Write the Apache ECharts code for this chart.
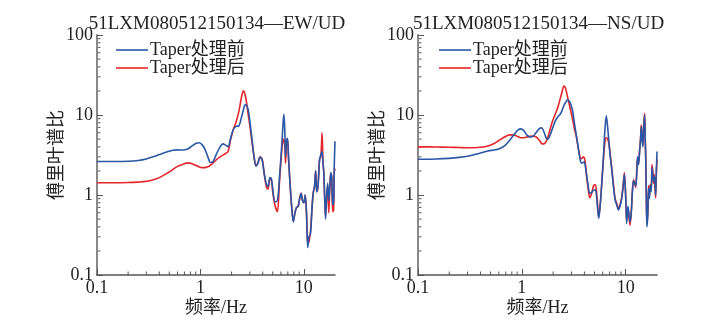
<!DOCTYPE html>
<html>
<head>
<meta charset="utf-8">
<script src="https://cdn.jsdelivr.net/npm/echarts@6/dist/echarts.min.js"></script>
<style>html,body{margin:0;padding:0;background:#fff}#c{width:722px;height:336px}</style>
</head>
<body>
<div id="c"></div>
<script>
// ---------- data ----------
const titles = ['51LXM080512150134\u2014EW/UD', '51LXM080512150134\u2014NS/UD'];
const seriesNames = ['Taper处理前', 'Taper处理后'];
const xTickLabels = ['0.1', '1', '10'];
const yTickLabels = ['0.1', '1', '10', '100'];
const xName = '频率/Hz';
const yName = '傅里叶谱比';

const ewFreq = [0.1,0.15,0.2,0.25,0.3,0.35,0.4,0.47,0.54,0.6,0.68,0.75,0.82,0.9,0.97,1.03,1.1,1.18,1.25,1.32,1.42,1.55,1.65,1.75,1.85,1.95,2.07,2.2,2.35,2.5,2.6,2.7,2.8,2.9,3.0,3.15,3.3,3.45,3.6,3.77,3.95,4.15,4.35,4.5,4.7,4.85,5.0,5.25,5.55,5.8,6.1,6.3,6.42,6.55,6.65,6.8,6.95,7.1,7.3,7.6,7.9,8.2,8.5,8.8,9.1,9.4,9.7,10.0,10.3,10.6,10.9,11.2,11.6,12.0,12.3,12.7,13.0,13.3,13.7,14.2,14.6,15.0,15.3,15.6,15.9,16.2,16.6,17.0,17.4,17.8,18.2,18.6,19.0,19.4,19.7,20.0];
const ewBefore = [2.62,2.62,2.64,2.7,2.82,3.0,3.2,3.45,3.62,3.66,3.65,3.75,4.05,4.4,4.5,4.3,3.8,3.0,2.55,2.6,3.2,4.0,4.35,4.2,4.0,5.0,6.5,7.2,7.3,9.5,11.5,13.4,13.2,11.5,8.5,5.0,3.0,2.3,2.5,2.95,2.75,1.8,1.35,1.28,1.65,1.6,1.2,0.82,0.85,1.6,4.0,8.0,10.2,6.0,3.0,4.8,5.1,3.0,1.6,0.75,0.46,0.6,0.7,0.72,0.9,1.05,0.85,0.8,1.0,0.6,0.22,0.3,0.33,0.7,1.05,1.3,2.0,1.1,1.3,2.8,3.2,3.5,2.5,1.9,0.9,0.5,1.0,1.4,0.85,1.2,1.9,1.7,0.75,0.8,2.5,4.7];
const ewAfter = [1.42,1.42,1.43,1.45,1.48,1.55,1.65,1.85,2.08,2.28,2.42,2.52,2.48,2.35,2.25,2.2,2.2,2.25,2.35,2.5,2.75,3.0,3.15,3.3,3.5,4.8,6.5,8.0,11.0,17.0,20.0,18.0,14.0,10.0,7.5,4.6,3.0,2.3,2.55,3.0,2.8,1.8,1.25,1.18,1.6,1.55,1.1,0.75,0.62,1.4,3.5,5.0,4.7,4.0,2.5,4.5,5.0,3.0,1.6,0.75,0.47,0.6,0.7,0.72,0.9,1.05,0.85,0.8,1.0,0.6,0.25,0.26,0.36,0.7,1.05,1.3,2.0,1.1,1.3,2.8,3.0,6.0,2.6,1.9,0.9,0.55,0.9,1.3,0.6,1.2,1.9,1.6,0.62,0.65,2.2,2.0];

const nsFreq = [0.1,0.15,0.2,0.25,0.3,0.35,0.4,0.47,0.54,0.6,0.68,0.76,0.85,0.92,0.98,1.05,1.12,1.2,1.28,1.38,1.48,1.55,1.62,1.7,1.78,1.85,1.95,2.08,2.22,2.37,2.5,2.56,2.65,2.75,2.9,3.07,3.2,3.36,3.5,3.65,3.77,3.9,4.0,4.1,4.2,4.35,4.5,4.7,4.9,5.1,5.3,5.5,5.7,5.9,6.1,6.3,6.5,6.7,6.9,7.1,7.3,7.6,7.9,8.2,8.5,8.8,9.1,9.4,9.7,10.0,10.2,10.5,10.8,11.0,11.3,11.6,11.9,12.2,12.5,12.8,13.0,13.3,13.6,13.9,14.1,14.3,14.6,14.9,15.2,15.4,15.6,15.8,16.0,16.3,16.6,16.9,17.2,17.6,17.9,18.2,18.5,18.8,19.1,19.4,19.7,20.0];
const nsBefore = [2.8,2.82,2.87,2.95,3.05,3.2,3.35,3.55,3.65,3.75,4.1,4.8,5.8,6.5,6.7,6.3,5.6,5.3,5.4,6.1,6.8,6.9,6.3,5.3,4.95,5.4,6.5,8.2,9.5,10.5,12.5,13.5,14.5,15.5,14.5,11.5,8.0,5.4,3.8,2.7,2.5,2.55,2.6,2.2,1.78,1.3,1.05,1.08,1.15,1.16,0.8,0.51,0.8,1.5,3.0,6.5,9.8,7.0,4.5,3.0,2.2,1.3,0.87,0.75,0.65,0.72,0.87,1.2,1.8,0.9,0.44,0.72,0.55,0.46,0.6,1.1,1.5,1.4,1.3,2.0,3.0,2.4,3.5,5.0,7.1,5.5,4.0,7.0,10.0,5.0,2.7,0.8,0.4,0.55,1.2,0.9,1.3,1.1,2.2,1.8,1.5,1.7,1.5,1.0,2.0,3.5];
const nsAfter = [4.0,3.98,3.95,3.92,3.9,3.9,3.95,4.1,4.4,4.8,5.3,5.65,5.6,5.35,5.2,5.2,5.3,5.4,5.45,5.3,4.8,4.4,4.35,4.6,5.3,6.3,8.0,10.0,12.5,17.0,22.0,23.0,21.0,17.0,12.5,9.0,6.8,5.2,3.8,2.9,2.85,3.0,2.9,2.4,1.7,1.2,0.92,1.05,1.3,1.35,0.9,0.53,0.8,1.5,2.8,4.5,5.2,5.0,4.3,3.2,2.3,1.4,0.9,0.78,0.68,0.75,0.9,1.25,1.9,0.95,0.48,0.68,0.5,0.42,0.6,1.15,1.55,1.4,1.25,2.2,2.9,2.5,3.6,5.2,7.5,5.8,4.2,7.5,10.5,5.2,2.8,0.9,0.45,0.6,1.3,0.95,1.35,1.2,2.4,2.0,1.4,1.8,1.3,0.92,1.8,2.8];

// ---------- styling ----------
const BLUE = '#2a57a5';
const RED = '#e4252b';
const FONT = "'Liberation Serif','Noto Sans CJK SC',serif";
const xMin = 0.1, xMax = 20, yMin = 0.1, yMax = 100;

function pair(f, v) { return f.map((x, i) => [x, v[i]]); }
function logLabel(labels) {
  return function (v) {
    const e = Math.log10(v);
    const r = Math.round(e);
    if (Math.abs(e - r) > 1e-6) return '';
    const s = r < 0 ? '0.' + '0'.repeat(-r - 1) + '1' : String(Math.pow(10, r));
    return labels.indexOf(s) >= 0 ? s : '';
  };
}

const grids = [
  { left: 97, top: 35, width: 238, height: 240 },
  { left: 418, top: 35, width: 239, height: 240 }
];

const option = {
  animation: false,
  backgroundColor: '#fff',
  textStyle: { fontFamily: FONT },
  title: titles.map((t, i) => ({
    text: t,
    left: grids[i].left + grids[i].width / 2 + 1,
    textAlign: 'center',
    top: 15,
    padding: 0,
    textStyle: { fontFamily: FONT, fontSize: 19, fontWeight: 'normal', color: '#222' }
  })),
  legend: [0, 1].map(i => ({
    data: seriesNames.map(n => ({ name: n, icon: 'rect' })),
    orient: 'vertical',
    left: grids[i].left + (i === 0 ? 19 : 21),
    top: 41,
    padding: 0,
    itemGap: 0,
    itemWidth: 32,
    itemHeight: 1.6,
    textStyle: { fontFamily: FONT, fontSize: 18, lineHeight: 18, color: '#222', padding: [0, 0, 0, -3] }
  })),
  grid: grids,
  xAxis: [0, 1].map(i => ({
    gridIndex: i,
    type: 'log',
    logBase: 10,
    min: xMin,
    max: xMax,
    name: xName,
    nameLocation: 'middle',
    nameGap: 24,
    nameMoveOverlap: false,
    nameTextStyle: { fontFamily: FONT, fontSize: 18, color: '#222' },
    axisLine: { show: true, lineStyle: { color: '#555', width: 1.5 } },
    axisTick: { show: true, inside: true, length: 6, lineStyle: { color: '#555', width: 1 } },
    axisLabel: { margin: 4, fontSize: 18, color: '#222', fontFamily: FONT, formatter: logLabel(xTickLabels), showMaxLabel: false },
    splitLine: { show: false }
  })),
  yAxis: [0, 1].map(i => ({
    gridIndex: i,
    type: 'log',
    logBase: 10,
    min: yMin,
    max: yMax,
    name: yName,
    nameLocation: 'middle',
    nameGap: 31,
    nameMoveOverlap: false,
    nameTextStyle: { fontFamily: FONT, fontSize: 18, color: '#222' },
    axisLine: { show: true, lineStyle: { color: '#888', width: 2 } },
    axisTick: { show: true, inside: true, length: 6, lineStyle: { color: '#555', width: 1 } },
    axisLabel: { margin: 4, fontSize: 18, color: '#222', fontFamily: FONT, formatter: logLabel(yTickLabels) },
    splitLine: { show: false }
  })),
  series: [
    { name: seriesNames[1], type: 'line', xAxisIndex: 0, yAxisIndex: 0, data: pair(ewFreq, ewAfter), symbol: 'none', smooth: 0.3, lineStyle: { color: RED, width: 1.6 }, itemStyle: { color: RED } },
    { name: seriesNames[0], type: 'line', xAxisIndex: 0, yAxisIndex: 0, data: pair(ewFreq, ewBefore), symbol: 'none', smooth: 0.3, lineStyle: { color: BLUE, width: 1.6 }, itemStyle: { color: BLUE } },
    { name: seriesNames[1], type: 'line', xAxisIndex: 1, yAxisIndex: 1, data: pair(nsFreq, nsAfter), symbol: 'none', smooth: 0.3, lineStyle: { color: RED, width: 1.6 }, itemStyle: { color: RED } },
    { name: seriesNames[0], type: 'line', xAxisIndex: 1, yAxisIndex: 1, data: pair(nsFreq, nsBefore), symbol: 'none', smooth: 0.3, lineStyle: { color: BLUE, width: 1.6 }, itemStyle: { color: BLUE } }
  ]
};

const chart = echarts.init(document.getElementById('c'), null, { renderer: 'canvas' });
chart.setOption(option);

// minor log ticks, positioned through the axes' own scales
const xMinor = [0.2,0.3,0.4,0.5,0.6,0.7,0.8,0.9,2,3,4,5,6,7,8,9];
const yMinor = [0.2,0.3,0.4,0.5,0.6,0.7,0.8,0.9,2,3,4,5,6,7,8,9,20,30,40,50,60,70,80,90];
const g = [];
[0, 1].forEach(i => {
  const yb = chart.convertToPixel({ yAxisIndex: i }, yMin);
  const xl = chart.convertToPixel({ xAxisIndex: i }, xMin);
  xMinor.forEach(v => {
    const x = chart.convertToPixel({ xAxisIndex: i }, v);
    g.push({ type: 'line', shape: { x1: x, y1: yb, x2: x, y2: yb - 3.5 }, style: { stroke: '#555', lineWidth: 1 }, silent: true });
  });
  yMinor.forEach(v => {
    const y = chart.convertToPixel({ yAxisIndex: i }, v);
    g.push({ type: 'line', shape: { x1: xl, y1: y, x2: xl + 3.5, y2: y }, style: { stroke: '#555', lineWidth: 1 }, silent: true });
  });
});
chart.setOption({ graphic: g });
</script>
</body>
</html>
